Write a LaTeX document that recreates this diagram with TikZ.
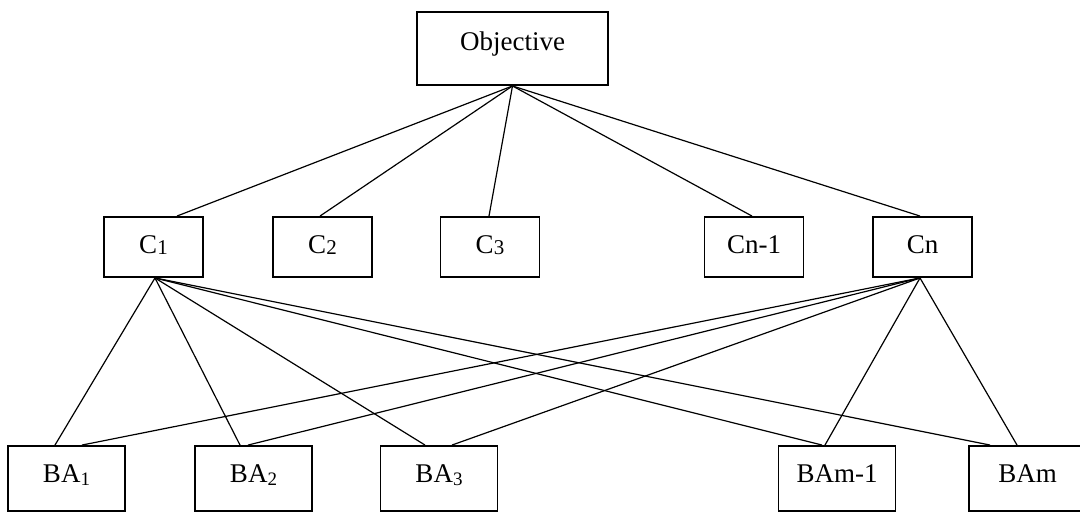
\documentclass[tikz,border=0pt]{standalone}
\usepackage{fontspec}
\setmainfont{Liberation Serif}
\newcommand\lsub[3]{\raisebox{-#2}{\fontsize{#3}{#3}\selectfont #1}}
\begin{document}
\begin{tikzpicture}[x=1pt,y=-1pt,
  box/.style={draw,line width=1.9pt,inner sep=0pt},
  obox/.style={box,minimum width=191pt,minimum height=73pt},
  cbox/.style={box,minimum width=99pt,minimum height=60pt},
  bbox/.style={box,minimum width=117pt,minimum height=65pt},
  lbl/.style={anchor=base,inner sep=0pt,font=\fontsize{27}{27}\selectfont},
  conn/.style={line width=1.2pt}]
\useasboundingbox (0,0) rectangle (1080,512);
\clip (0,0) rectangle (1080,512);
% boxes
\node[obox] (obj) at (512.5,48.5) {};
\node[cbox] (c1) at (153.5,247) {};
\node[cbox] (c2) at (322.5,247) {};
\node[cbox] (c3) at (490,247) {};
\node[cbox] (cn1) at (754,247) {};
\node[cbox] (cn) at (922.5,247) {};
\node[bbox] (ba1) at (66.5,478.5) {};
\node[bbox] (ba2) at (253.5,478.5) {};
\node[bbox] (ba3) at (439,478.5) {};
\node[bbox] (bam1) at (837,478.5) {};
\node[bbox] (bam) at (1027.5,478.5) {};
% labels
\node[lbl] (tobj) at (512.5,50) {Objective};
\node[lbl] (tc1) at (153.5,253) {C\lsub{1}{1.5pt}{21}};
\node[lbl] (tc2) at (322.5,253) {C\lsub{2}{1.5pt}{21}};
\node[lbl] (tc3) at (490,253) {C\lsub{3}{1.5pt}{21}};
\node[lbl] (tcn1) at (754,253) {Cn-1};
\node[lbl] (tcn) at (922.5,253) {Cn};
\node[lbl] (tba1) at (66.5,482) {BA\lsub{1}{3.5pt}{19}};
\node[lbl] (tba2) at (253.5,482) {BA\lsub{2}{3.5pt}{19}};
\node[lbl] (tba3) at (439,482) {BA\lsub{3}{3.5pt}{19}};
\node[lbl] (tbam1) at (837,482) {BAm-1};
\node[lbl] (tbam) at (1027.5,482) {BAm};
% objective to criteria
\draw[conn] (obj.south) -- ([xshift=23.5pt]c1.north);
\draw[conn] (obj.south) -- ([xshift=-2.5pt]c2.north);
\draw[conn] (obj.south) -- ([xshift=-1pt]c3.north);
\draw[conn] (obj.south) -- ([xshift=-2pt]cn1.north);
\draw[conn] (obj.south) -- ([xshift=-2.5pt]cn.north);
% C1 to alternatives
\draw[conn] ([xshift=1.5pt]c1.south) -- ([xshift=-11.5pt]ba1.north);
\draw[conn] ([xshift=1.5pt]c1.south) -- ([xshift=-13.5pt]ba2.north);
\draw[conn] ([xshift=1.5pt]c1.south) -- ([xshift=-14pt]ba3.north);
\draw[conn] ([xshift=1.5pt]c1.south) -- ([xshift=-15pt]bam1.north);
\draw[conn] ([xshift=1.5pt]c1.south) -- ([xshift=-37.5pt]bam.north);
% Cn to alternatives
\draw[conn] ([xshift=-2.5pt]cn.south) -- ([xshift=15.5pt]ba1.north);
\draw[conn] ([xshift=-2.5pt]cn.south) -- ([xshift=-5.5pt]ba2.north);
\draw[conn] ([xshift=-2.5pt]cn.south) -- ([xshift=13pt]ba3.north);
\draw[conn] ([xshift=-2.5pt]cn.south) -- ([xshift=-12pt]bam1.north);
\draw[conn] ([xshift=-2.5pt]cn.south) -- ([xshift=-10.5pt]bam.north);
\end{tikzpicture}
\end{document}
